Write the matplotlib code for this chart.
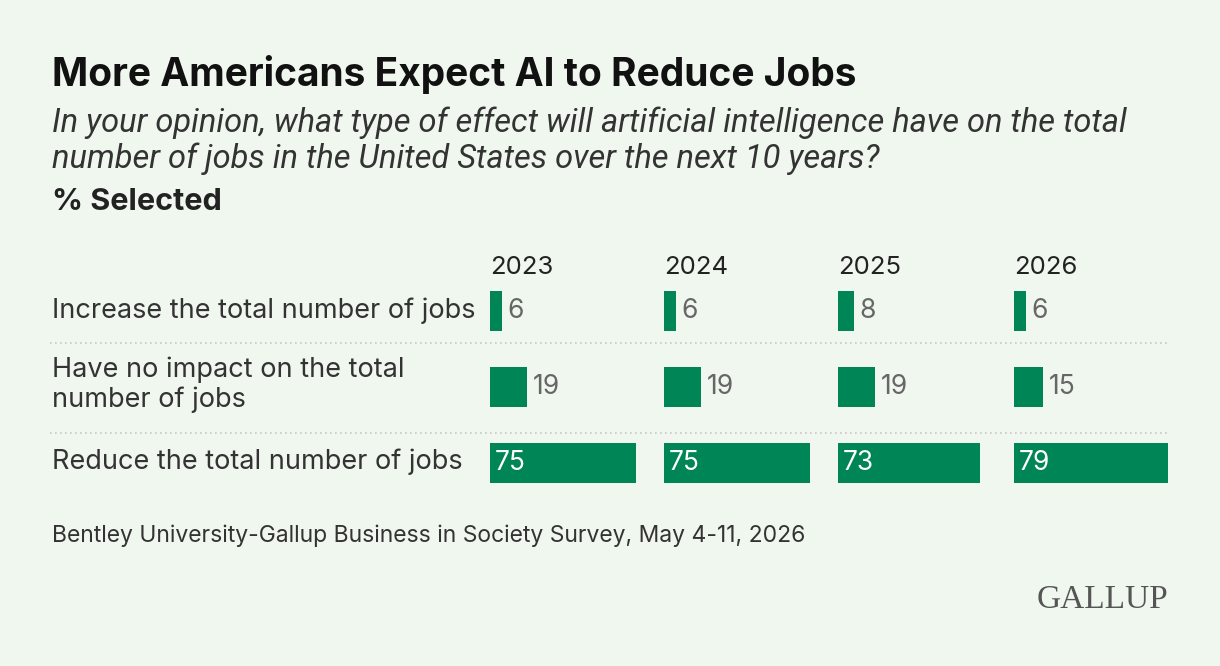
import matplotlib
matplotlib.use("Agg")
import matplotlib.pyplot as plt
from matplotlib.lines import Line2D

plt.rcParams["font.family"] = ["Inter", "DejaVu Sans"]

years = ["2023", "2024", "2025", "2026"]
rows = [
    "Increase the total number of jobs",
    "Have no impact on the total\nnumber of jobs",
    "Reduce the total number of jobs",
]
values = {
    "2023": [6, 19, 75],
    "2024": [6, 19, 75],
    "2025": [8, 19, 73],
    "2026": [6, 15, 79],
}

bg = "#f0f7ef"
green = "#008656"
W, H = 1220, 666

fig = plt.figure(figsize=(W / 100, H / 100), dpi=100, facecolor=bg)

def fx(px):
    return px / W

def fy(py):
    return 1 - py / H

# Titles
fig.text(fx(52), fy(74), "More Americans Expect AI to Reduce Jobs",
         fontsize=28, fontweight="bold", color="#111111", va="center")
fig.text(fx(52), fy(141),
         "In your opinion, what type of effect will artificial intelligence have on the total\n"
         "number of jobs in the United States over the next 10 years?",
         fontsize=23.5, fontstyle="italic", color="#333333", va="center",
         linespacing=1.15, family=["Roboto", "DejaVu Sans"])
fig.text(fx(52), fy(202), "% Selected", fontsize=22, fontweight="bold",
         color="#222222", va="center")

# Panels
panel_x = [490, 664, 838, 1014]
top, bottom = 273, 501
for year, x0 in zip(years, panel_x):
    ax = fig.add_axes([fx(x0), fy(bottom), 195 / W, (bottom - top) / H])
    ax.set_facecolor("none")
    ax.set_xlim(0, 100)
    ax.set_ylim(2.5, -0.5)
    ax.axis("off")
    vals = values[year]
    ax.barh(range(3), vals, height=40 / 76, color=green)
    for i, v in enumerate(vals):
        if v >= 50:
            ax.text(2.5, i, str(v), color="white", fontsize=19, va="center", ha="left")
        else:
            ax.text(v + 3, i, str(v), color="#666666", fontsize=19, va="center", ha="left")
    fig.text(fx(x0), fy(267), year, fontsize=18.5, color="#222222", va="center")

# Row labels
for label, yc in zip(rows, [311, 385, 462]):
    fig.text(fx(52), fy(yc), label, fontsize=19.5, color="#333333", va="center",
             linespacing=1.15)

# Dotted separators
for yc in [343, 433]:
    fig.add_artist(Line2D([fx(50), fx(1168)], [fy(yc), fy(yc)],
                          color="#c8c8c8", linestyle=(0, (1, 2)), linewidth=1.2))

fig.text(fx(52), fy(536), "Bentley University-Gallup Business in Society Survey, May 4-11, 2026",
         fontsize=16.5, color="#333333", va="center")
fig.text(fx(1168), fy(600), "GALLUP", fontsize=24, color="#555555", va="center",
         ha="right", family=["Liberation Serif", "DejaVu Serif"])

fig.savefig("out.png", dpi=100, facecolor=bg)
